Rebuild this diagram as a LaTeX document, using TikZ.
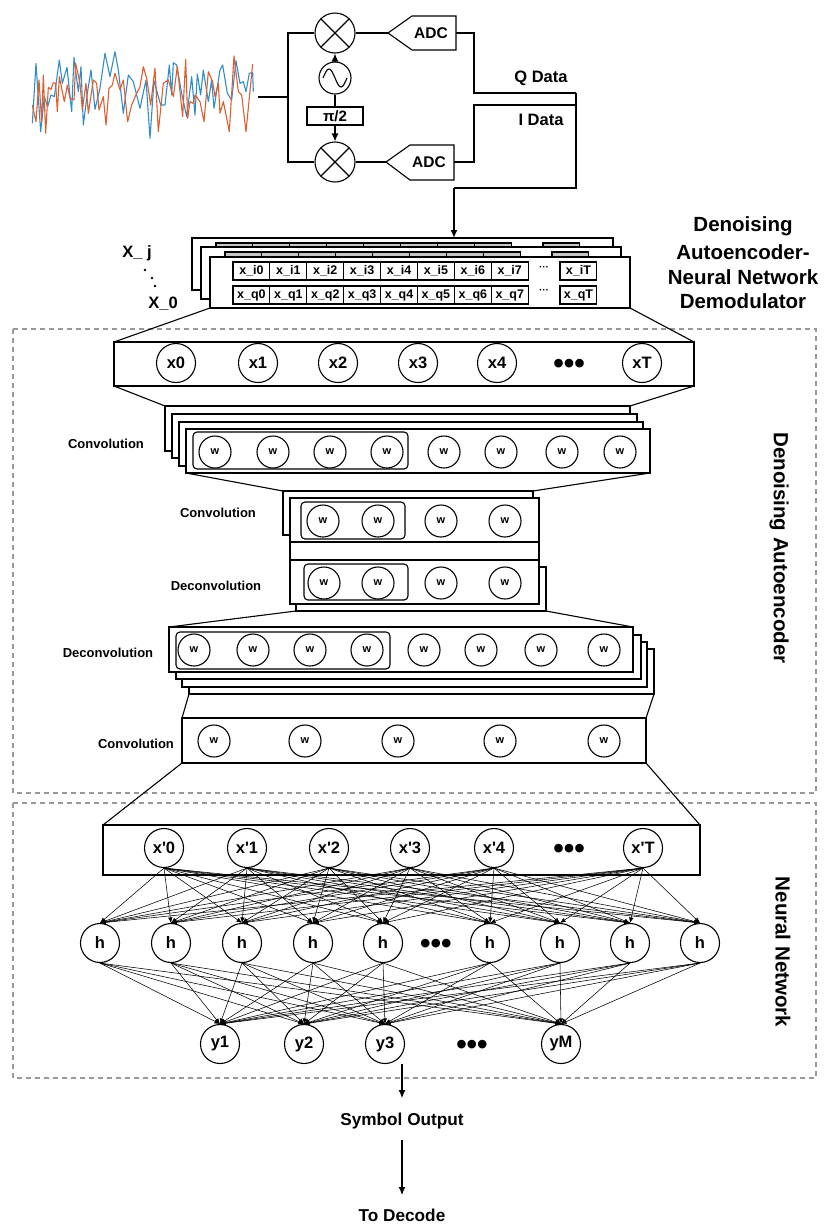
\documentclass[tikz,border=0pt]{standalone}
\usepackage{fontspec}
\setmainfont{Liberation Sans}
\newfontfamily\nnfont{Liberation Sans}
\usepackage{xcolor}
\usetikzlibrary{arrows.meta}
\definecolor{sigblue}{RGB}{50,140,200}
\definecolor{sigorange}{RGB}{220,95,50}
\tikzset{
  layerbox/.style={draw, fill=white, line width=1.2pt, inner sep=0pt, outer sep=0pt},
  groupbox/.style={draw, rounded corners=4pt, line width=1.1pt, inner sep=0pt, outer sep=0pt},
  cellbox/.style={draw, fill=white, line width=1.1pt, inner sep=0pt, outer sep=0pt, minimum width=36.9pt, minimum height=18pt, font=\fontsize{12.5}{14}\selectfont\bfseries},
  backcell/.style={cellbox, fill=gray!45},
  bignode/.style={draw, circle, fill=white, line width=1.1pt, inner sep=0pt, minimum size=39pt, font=\fontsize{16.5}{18}\nnfont\bfseries},
  wnode/.style={draw, circle, fill=white, line width=1.1pt, inner sep=0pt, minimum size=32pt, font=\fontsize{11}{13}\selectfont\bfseries},
  mixer/.style={draw, circle, line width=1.1pt, inner sep=0pt, minimum size=40pt, path picture={
    \draw[line width=1.1pt] (path picture bounding box.north west) -- (path picture bounding box.south east);
    \draw[line width=1.1pt] (path picture bounding box.north east) -- (path picture bounding box.south west);}},
  wire/.style={line width=1.1pt},
  tipwire/.style={wire, -{Latex[length=8pt,width=7pt]}},
  edge/.style={-{Latex[length=5.5pt,width=4.5pt]}, line width=0.55pt},
  dotsnode/.style={font=\fontsize{30}{30}\selectfont\bfseries, inner sep=0pt},
  layerlabel/.style={font=\fontsize{13}{15}\selectfont\bfseries},
  titlelabel/.style={font=\fontsize{20.5}{24}\selectfont\bfseries},
  dashbox/.style={draw=gray!80, line width=1.1pt, dash pattern=on 5pt off 4pt}
}
\newcommand{\laybox}[6][layerbox]{
  \node[#1, minimum width={(#5)-(#3)}, minimum height={(#6)-(#4)}] (#2) at ({(#3+#5)/2},{(#4+#6)/2}) {};
}

\begin{document}
\begin{tikzpicture}[x=1pt, y=-1pt]
\useasboundingbox (0,0) rectangle (825,1227);

% dashed regions
\draw[dashbox] (13,329) rectangle (816,793);
\draw[dashbox] (13,803) rectangle (816,1078);

% received signal
\begin{scope}[shift={(25,50)}, x=0.3333pt, y=-0.3333pt, line width=1.1pt, line join=round]
\draw[sigblue] (22,220) -- (33,40) -- (47,245) -- (58,140) -- (68,170) -- (78,135) -- (88,140) -- (103,30) -- (112,100) -- (126,52) -- (140,185) -- (147,22) -- (160,125) -- (168,50) -- (175,225) -- (187,130) -- (198,60) -- (210,178) -- (225,115) -- (240,10) -- (255,80) -- (270,5) -- (280,60) -- (295,190) -- (310,75) -- (325,95) -- (345,175);
\draw[sigorange] (22,165) -- (33,215) -- (42,90) -- (50,215) -- (55,75) -- (62,250) -- (70,112) -- (78,118) -- (85,98) -- (92,100) -- (97,185) -- (103,80) -- (118,155) -- (127,105) -- (135,145) -- (147,150) -- (152,40) -- (165,100) -- (172,180) -- (183,100) -- (190,190) -- (205,90) -- (215,100) -- (222,180) -- (235,140) -- (243,225) -- (252,115) -- (262,105) -- (270,70) -- (285,120) -- (295,90) -- (308,215) -- (320,165) -- (335,130) -- (345,110);
\end{scope}
\begin{scope}[shift={(140,50)}, x=0.3333pt, y=-0.3333pt, line width=1.1pt, line join=round]
\draw[sigblue] (0,175) -- (18,90) -- (30,265) -- (42,92) -- (62,165) -- (75,165) -- (88,45) -- (95,135) -- (100,38) -- (110,45) -- (125,130) -- (140,200) -- (155,80) -- (165,195) -- (172,72) -- (182,135) -- (190,60) -- (205,155) -- (215,90) -- (222,175) -- (240,60) -- (248,45) -- (262,130) -- (275,150) -- (288,32) -- (300,100) -- (310,95) -- (318,125) -- (328,70) -- (338,68) -- (340,125);
\draw[sigorange] (0,110) -- (10,50) -- (20,85) -- (32,165) -- (45,55) -- (55,245) -- (70,100) -- (85,90) -- (100,140) -- (112,50) -- (128,200) -- (137,28) -- (143,205) -- (150,155) -- (160,160) -- (165,135) -- (180,155) -- (192,215) -- (205,65) -- (218,95) -- (225,140) -- (235,100) -- (240,190) -- (250,155) -- (268,245) -- (282,18) -- (295,125) -- (305,135) -- (318,245) -- (338,42);
\end{scope}

% IQ front end
\node[mixer] (mixq) at (335,33) {};
\node[mixer] (mixi) at (335,162) {};
\node[draw, circle, line width=1.1pt, inner sep=0pt, minimum size=32pt] (osc) at (335,78) {};
\draw[wire] (323,78) sin (329,69) cos (335,78) sin (341,87) cos (347,78);
\node[draw, line width=1.1pt, minimum width=56pt, minimum height=18pt, inner sep=0pt, font=\fontsize{15}{17}\selectfont\bfseries] (shift) at (335,116) {π/2};
\draw[tipwire] (osc.north) -- (mixq.south);
\draw[wire] (osc.south) -- (shift.north);
\draw[tipwire] (shift.south) -- (mixi.north);

\coordinate (sigout) at (258,97);
\coordinate (split) at (288,97);
\draw[wire] (sigout) -- (split);
\draw[wire] (mixq.west) -| (split) |- (mixi.west);

\coordinate (qtip) at (388,33);
\coordinate (qout) at (456,33);
\coordinate (itip) at (386,162);
\coordinate (iout) at (454,162);
\node[font=\fontsize{15.5}{17}\selectfont\bfseries] (adcq) at (431,33) {ADC};
\node[font=\fontsize{15.5}{17}\selectfont\bfseries] (adci) at (429,162) {ADC};
\draw[wire] (qtip) -- (412,16) -- (456,16) -- (456,50) -- (412,50) -- cycle;
\draw[wire] (itip) -- (410,145) -- (454,145) -- (454,180) -- (410,180) -- cycle;
\draw[wire] (mixq.east) -- (qtip);
\draw[wire] (mixi.east) -- (itip);

\coordinate (qend) at (576,93);
\coordinate (iend) at (576,105);
\coordinate (busturn) at (454,188);
\coordinate (busend) at (454,238);
\draw[wire] (qout) -| (474,93) -- (qend);
\draw[wire] (iout) -| (474,105) -- (iend);
\draw[wire] (qend) -- (576,188) -- (busturn);
\node[font=\fontsize{16.5}{19}\selectfont\bfseries] (qlabel) at (541,78) {Q Data};
\node[font=\fontsize{16.5}{19}\selectfont\bfseries] (ilabel) at (541,120) {I Data};

% input frames
\laybox{frameb}{192}{238}{613}{290}
\foreach \i in {0,...,7} {
  \node[backcell, anchor=north west] (bi\i) at ({216+36.9*\i},243) {};
}
\node[backcell, anchor=north west] (biT) at (543,243) {};
\laybox{framec}{201}{247}{621}{299}
\foreach \i in {0,...,7} {
  \node[backcell, anchor=north west] (ci\i) at ({225+36.9*\i},252) {};
}
\node[backcell, anchor=north west] (ciT) at (552,252) {};
\laybox{framea}{210}{257}{630}{308}
\foreach \i in {0,...,7} {
  \node[cellbox, anchor=north west] (xi\i) at ({233+36.9*\i},262) {x\_i\i};
  \node[cellbox, anchor=north west] (xq\i) at ({233+36.9*\i},286) {x\_q\i};
}
\node[cellbox, anchor=north west] (xiT) at (560,262) {x\_iT};
\node[cellbox, anchor=north west] (xqT) at (560,286) {x\_qT};
\node[font=\fontsize{10}{12}\selectfont\bfseries] (xidots) at (544,268) {···};
\node[font=\fontsize{10}{12}\selectfont\bfseries] (xqdots) at (544,291) {···};
\draw[tipwire, line width=1.5pt] (busturn) -- (busend);

\node[font=\fontsize{16.5}{19}\selectfont\bfseries] (xj) at (137,253) {X\_ j};
\node[font=\fontsize{16.5}{19}\selectfont\bfseries] (xz) at (163,304) {X\_0};
\fill (145,270) circle (1.4pt);
\fill (152,278) circle (1.4pt);
\fill (155,286) circle (1.4pt);

\node[titlelabel] (title1) at (743,226) {Denoising};
\node[titlelabel] (title2) at (743,252) {Autoencoder-};
\node[titlelabel] (title3) at (743,277) {Neural Network};
\node[titlelabel] (title4) at (743,301) {Demodulator};

% input layer
\laybox{inbox}{114}{342}{694}{386}
\foreach \n/\xx in {x0/176,x1/258,x2/338,x3/418,x4/497,xT/642} {
  \node[bignode] (\n) at (\xx,363) {\n};
}
\node[dotsnode] (xdots) at (569,366) {•••};
\draw[wire] (framea.south west) -- (inbox.north west);
\draw[wire] (framea.south east) -- (inbox.north east);

% first convolution
\laybox{cona}{165}{406}{630}{451}
\laybox{conb}{172}{414}{637}{458}
\laybox{conc}{179}{422}{643}{466}
\laybox{cond}{186}{429}{650}{473}
\draw[wire] (inbox.south west) -- (cona.north west);
\draw[wire] (inbox.south east) -- (cona.north east);
\laybox[groupbox]{congrp}{193}{432}{408}{469}
\foreach \i/\xx in {1/215,2/273,3/330,4/387,5/444,6/501,7/562,8/620} {
  \node[wnode] (wa\i) at (\xx,452) {w};
}
\node[layerlabel] (conlabel1) at (106,444) {Convolution};

% second convolution, bottleneck, first deconvolution
\laybox{conf}{283}{491}{533}{535}
\laybox{cong}{290}{498}{539}{542}
\laybox{midbox}{290}{542}{539}{560}
\laybox{decf}{296}{567}{546}{611}
\laybox{decg}{290}{560}{539}{604}
\draw[wire] (cond.south west) -- (conf.north west);
\draw[wire] (cond.south east) -- (conf.north east);
\laybox[groupbox]{cgrp2}{301}{502}{405}{539}
\laybox[groupbox]{dgrp2}{304}{564}{408}{600}
\foreach \i/\xx in {1/323,2/378,3/441,4/505} {
  \node[wnode] (wb\i) at (\xx,521) {w};
}
\foreach \i/\xx in {1/324,2/378,3/441,4/505} {
  \node[wnode] (wc\i) at (\xx,583) {w};
}
\node[layerlabel] (conlabel2) at (218,513) {Convolution};
\node[layerlabel] (declabel1) at (216,586) {Deconvolution};

% second deconvolution
\laybox{decd}{189}{649}{654}{694}
\laybox{decc}{182}{642}{647}{687}
\laybox{decb}{176}{635}{641}{679}
\laybox{deca}{169}{627}{633}{672}
\draw[wire] (decf.south west) -- (deca.north west);
\draw[wire] (decf.south east) -- (deca.north east);
\laybox[groupbox]{dgrp1}{176}{632}{390}{669}
\foreach \i/\xx in {1/194,2/253,3/310,4/367,5/424,6/481,7/541,8/604} {
  \node[wnode] (wd\i) at (\xx,650) {w};
}
\node[layerlabel] (declabel2) at (108,653) {Deconvolution};

% last convolution
\laybox{lastbox}{182}{718}{646}{763}
\draw[wire] (decd.south west) -- (lastbox.north west);
\draw[wire] (decd.south east) -- (lastbox.north east);
\foreach \i/\xx in {1/214,2/305,3/398,4/500,5/604} {
  \node[wnode] (we\i) at (\xx,741) {w};
}
\node[layerlabel] (conlabel3) at (136,744) {Convolution};

\node[titlelabel, rotate=-90] (dalabel) at (779,548) {Denoising Autoencoder};

% neural network
\laybox{nnbox}{103}{825}{700}{875}
\draw[wire] (lastbox.south west) -- (nnbox.north west);
\draw[wire] (lastbox.south east) -- (nnbox.north east);
\foreach \n/\t/\xx in {xp0/0/164,xp1/1/247,xp2/2/329,xp3/3/410,xp4/4/494,xpT/T/643} {
  \node[bignode] (\n) at (\xx,848) {x'\t};
}
\node[dotsnode] (xpdots) at (569,851) {•••};
\foreach \n/\xx in {h1/100,h2/171,h3/242,h4/313,h5/383,h6/490,h7/560,h8/630,h9/700} {
  \node[bignode] (\n) at (\xx,943) {h};
}
\node[dotsnode] (hdots) at (436,946) {•••};
\foreach \n/\xx in {y1/220,y2/304,y3/385,yM/561} {
  \node[bignode] (\n) at (\xx,1044) {\n};
}
\node[dotsnode] (ydots) at (472,1047) {•••};
\foreach \a in {xp0,xp1,xp2,xp3,xp4,xpT} {
  \foreach \b in {h1,h2,h3,h4,h5,h6,h7,h8,h9} {
    \draw[edge] (\a.south) -- (\b.north);
  }
}
\foreach \a in {h1,h2,h3,h4,h5,h6,h7,h8,h9} {
  \foreach \b in {y1,y2,y3,yM} {
    \draw[edge] (\a.south) -- (\b.north);
  }
}
\node[titlelabel, rotate=-90] (nnlabel) at (783,952) {Neural Network};

% outputs
\coordinate (yout) at (402,1064);
\coordinate (symend) at (402,1098);
\coordinate (decstart) at (402,1140);
\coordinate (decend) at (402,1195);
\node[font=\fontsize{17.2}{19}\selectfont\bfseries] (symout) at (402,1121) {Symbol Output};
\node[font=\fontsize{17.2}{19}\selectfont\bfseries] (todecode) at (402,1215) {To Decode};
\draw[tipwire] (yout) -- (symend);
\draw[tipwire] (decstart) -- (decend);
\end{tikzpicture}
\end{document}
